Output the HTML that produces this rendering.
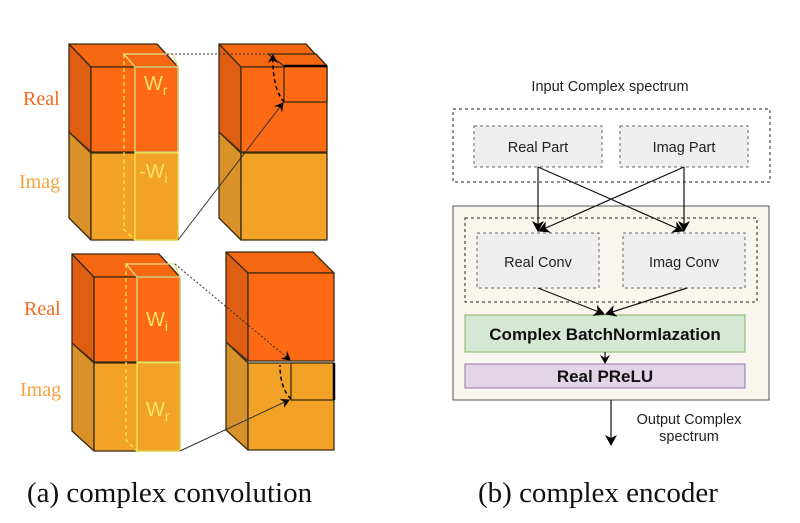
<!DOCTYPE html>
<html><head><meta charset="utf-8"><style>
html,body{margin:0;padding:0;background:#fff;}
svg{display:block;}
</style></head><body>
<svg width="800" height="523" viewBox="0 0 800 523" xmlns="http://www.w3.org/2000/svg">
<defs>
<marker id="ah" markerWidth="10" markerHeight="10" refX="8" refY="5" orient="auto" markerUnits="userSpaceOnUse"><path d="M0,0 L9,5 L0,10 L3,5 z" fill="#000"/></marker>
<marker id="ah2" markerWidth="12" markerHeight="12" refX="10" refY="6" orient="auto" markerUnits="userSpaceOnUse"><path d="M0,0 L11,6 L0,12 L3,6 z" fill="#000"/></marker>
</defs>
<g stroke="#3a2a10" stroke-width="1.3" stroke-linejoin="round">
<polygon points="69,132 91,153 91,240 69,218" fill="#d9922a"/>
<rect x="91" y="153" width="87" height="87" fill="#f2a227"/>
<polygon points="69,44 91,67 91,152 69,132" fill="#e05e12"/>
<polygon points="69,44 157,44 178,67 91,67" fill="#f66712"/>
<rect x="91" y="67" width="87" height="85" fill="#fd6a13"/>
<polygon points="219,132 241,153 241,240 219,218" fill="#d9922a"/>
<rect x="241" y="153" width="86" height="87" fill="#f2a227"/>
<polygon points="219,44 241,67 241,152 219,132" fill="#e05e12"/>
<polygon points="219,44 306,44 327,67 241,67" fill="#f66712"/>
<rect x="241" y="67" width="86" height="85" fill="#fd6a13"/>
<polygon points="268,54 316,54 327,66 284,66" fill="#f66712"/>
<rect x="284" y="66" width="43" height="36" fill="#fd6a13"/>
<line x1="284" y1="66" x2="327" y2="66" stroke="#000" stroke-width="2.5"/>
<polygon points="72,343 94,363 94,451 72,431" fill="#d9922a"/>
<rect x="94" y="363" width="86" height="88" fill="#f2a227"/>
<polygon points="72,254 94,277 94,362 72,343" fill="#e05e12"/>
<polygon points="72,254 159,254 180,277 94,277" fill="#f66712"/>
<rect x="94" y="277" width="86" height="85" fill="#fd6a13"/>
<polygon points="226,342 248,363 248,450 226,430" fill="#d9922a"/>
<rect x="248" y="363" width="86" height="87" fill="#f2a227"/>
<polygon points="226,252 248,273 248,361 226,342" fill="#e05e12"/>
<polygon points="226,252 313,252 334,273 248,273" fill="#f66712"/>
<rect x="248" y="273" width="86" height="88" fill="#fd6a13"/>
<rect x="291" y="363" width="43" height="37" fill="#f2a227"/>
<line x1="334" y1="363" x2="334" y2="400" stroke="#000" stroke-width="2.5"/>
</g>
<g fill="none" stroke-width="1.3">
<polygon points="124,54 173,54 178,67 135,67" stroke="#e8e08a"/>
<rect x="135" y="67" width="43" height="85" stroke="#d8d880"/>
<rect x="135" y="153" width="43" height="87" stroke="#f5e84a"/>
<path d="M124,54 L124,230 L135,240" stroke="#f5e84a" stroke-dasharray="4,3"/>
<polygon points="126,264 175,264 180,277 137,277" stroke="#e8e08a"/>
<rect x="137" y="277" width="43" height="85" stroke="#d8d880"/>
<rect x="137" y="363" width="43" height="88" stroke="#f5e84a"/>
<path d="M126,264 L126,440 L137,451" stroke="#f5e84a" stroke-dasharray="4,3"/>
</g>
<g fill="none" stroke="#333" stroke-width="1">
<line x1="167" y1="54" x2="268" y2="54" stroke-dasharray="2,2"/>
<line x1="178" y1="240" x2="283" y2="103" marker-end="url(#ah)"/>
<path d="M284,102 Q272,88 273,55" stroke="#000" stroke-width="1.5" stroke-dasharray="4,3" marker-end="url(#ah)"/>
<line x1="175" y1="264" x2="290" y2="360" stroke-dasharray="2,2" marker-end="url(#ah)"/>
<line x1="180" y1="451" x2="289" y2="400" marker-end="url(#ah)"/>
<path d="M291,399 Q280,388 280,365" stroke="#000" stroke-width="1.5" stroke-dasharray="4,3"/>
</g>
<g font-family="Liberation Serif, serif" font-size="20">
<text x="23" y="105" fill="#f46a1c">Real</text>
<text x="19" y="188" fill="#f4a23c">Imag</text>
<text x="24" y="315" fill="#f46a1c">Real</text>
<text x="20" y="396" fill="#f4a23c">Imag</text>
</g>
<g font-family="Liberation Sans, sans-serif" font-size="20">
<text x="144" y="90" fill="#ffe566">W<tspan font-size="14" dy="5">r</tspan></text>
<text x="139" y="178" fill="#ffe566">-W<tspan font-size="14" dy="5">i</tspan></text>
<text x="146" y="326" fill="#ffe566">W<tspan font-size="14" dy="5">i</tspan></text>
<text x="146" y="416" fill="#ffe566">W<tspan font-size="14" dy="5">r</tspan></text>
</g>
<g font-family="Liberation Sans, sans-serif">
<text x="610" y="91" font-size="14.5" text-anchor="middle" fill="#222">Input Complex spectrum</text>
<rect x="453" y="109" width="317" height="73" fill="none" stroke="#222" stroke-dasharray="3,3"/>
<rect x="474" y="126" width="128" height="41" fill="#eee" stroke="#666" stroke-dasharray="3,3"/>
<rect x="620" y="126" width="128" height="41" fill="#eee" stroke="#666" stroke-dasharray="3,3"/>
<text x="538" y="152" font-size="14.5" text-anchor="middle" fill="#222">Real Part</text>
<text x="684" y="152" font-size="14.5" text-anchor="middle" fill="#222">Imag Part</text>
<rect x="453" y="206" width="316" height="194" fill="#f9f6ee" stroke="#555"/>
<rect x="465" y="218" width="292" height="84" fill="none" stroke="#222" stroke-dasharray="3,3"/>
<rect x="477" y="233" width="122" height="55" fill="#eee" stroke="#666" stroke-dasharray="3,3"/>
<rect x="623" y="233" width="122" height="55" fill="#eee" stroke="#666" stroke-dasharray="3,3"/>
<text x="538" y="267" font-size="14.5" text-anchor="middle" fill="#222">Real Conv</text>
<text x="684" y="267" font-size="14.5" text-anchor="middle" fill="#222">Imag Conv</text>
<rect x="465" y="315" width="280" height="37" fill="#d5e8d4" stroke="#82b366"/>
<text x="605" y="340" font-size="17" font-weight="bold" text-anchor="middle" fill="#111">Complex BatchNormlazation</text>
<rect x="465" y="364" width="280" height="24" fill="#e1d5e7" stroke="#9673a6"/>
<text x="605" y="382" font-size="17" font-weight="bold" text-anchor="middle" fill="#111">Real PReLU</text>
<text x="689" y="424" font-size="14.5" text-anchor="middle" fill="#222">Output Complex</text>
<text x="689" y="441" font-size="14.5" text-anchor="middle" fill="#222">spectrum</text>
</g>
<g stroke="#111" stroke-width="1.2" fill="none">
<line x1="538" y1="167" x2="538" y2="231" marker-end="url(#ah2)"/>
<line x1="538" y1="167" x2="683" y2="231" marker-end="url(#ah2)"/>
<line x1="684" y1="167" x2="539" y2="231" marker-end="url(#ah2)"/>
<line x1="684" y1="167" x2="684" y2="231" marker-end="url(#ah2)"/>
<line x1="538" y1="288" x2="604" y2="314" marker-end="url(#ah2)"/>
<line x1="687" y1="288" x2="606" y2="314" marker-end="url(#ah2)"/>
<line x1="605" y1="352" x2="605" y2="363" marker-end="url(#ah)"/>
<line x1="611" y1="400" x2="611" y2="445" marker-end="url(#ah2)"/>
</g>
<g font-family="Liberation Serif, serif" font-size="29" fill="#111">
<text x="27" y="502">(a) complex convolution</text>
<text x="478" y="502">(b) complex encoder</text>
</g>
</svg>
</body></html>
